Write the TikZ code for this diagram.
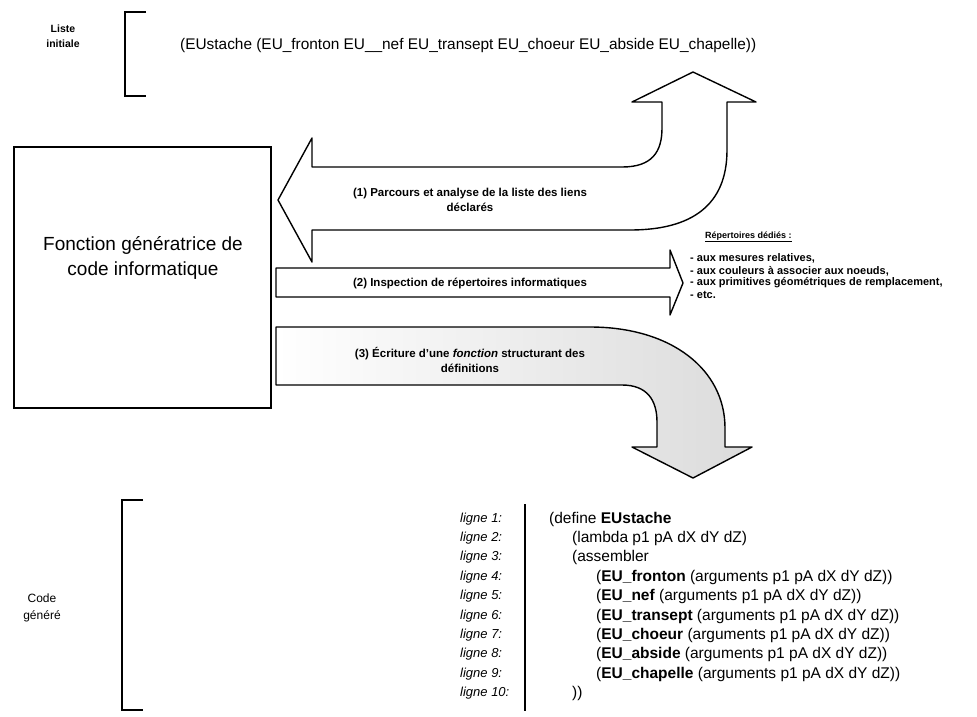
\documentclass[tikz,border=0pt]{standalone}
\usepackage{fontspec}
\setmainfont{Liberation Sans}
\begin{document}
\begin{tikzpicture}[x=1pt,y=-1pt,
  brk/.style={line width=2.4pt},
  blockarrow/.style={draw=black,line width=1.4pt,line join=round,fill=white},
  arrtxt/.style={font=\bfseries\fontsize{11.5}{14.5}\selectfont,align=center},
  codetxt/.style={anchor=west,font=\fontsize{15.5}{16}\selectfont,inner sep=0pt},
  lntxt/.style={anchor=west,font=\itshape\fontsize{13}{16}\selectfont,inner sep=0pt},
  reptxt/.style={anchor=west,font=\bfseries\fontsize{11}{12}\selectfont,inner sep=0pt},
  sidelbl/.style={align=center,inner sep=0pt}]
\useasboundingbox (0,0) rectangle (977,716);

% ---------- Liste initiale ----------
\coordinate (lb1) at (146,12);
\coordinate (lb2) at (125,12);
\coordinate (lb3) at (125,96);
\coordinate (lb4) at (146,96);
\draw[brk] (lb1) -- (lb2) -- (lb3) -- (lb4);
\node[sidelbl,font=\bfseries\fontsize{10.5}{15}\selectfont] (liste) at (63,36) {Liste\\initiale};
\node[anchor=west,inner sep=0pt,font=\fontsize{15.4}{16}\selectfont] (liste0) at (180,46)
  {(EUstache (EU\_fronton EU\_\_nef EU\_transept EU\_choeur EU\_abside EU\_chapelle))};

% ---------- main box ----------
\node[draw,line width=1.8pt,minimum width=257pt,minimum height=261pt,inner sep=0pt] (box) at (142.5,277.5) {};
\node[align=center,font=\fontsize{19}{25}\selectfont] (boxtxt) at (143,258) {Fonction génératrice de\\code informatique};

% ---------- arrow (1) ----------
\coordinate (a1tip) at (278,200);
\coordinate (a1up) at (693,72);
\draw[blockarrow] (a1tip) -- (312,138) -- (312,167) -- (622,167)
  .. controls (652,167) and (662,152) .. (662,128) -- (662,102) -- (632,102)
  -- (a1up) -- (756,102) -- (727,102) -- (727,150)
  .. controls (727,205) and (692,230) .. (630,230) -- (312,230) -- (312,262) -- cycle;
\node[arrtxt] (a1txt) at (470,200) {(1) Parcours et analyse de la liste des liens\\déclarés};

% ---------- arrow (2) ----------
\coordinate (a2tip) at (683,283);
\draw[blockarrow] (276,268) -- (670,268) -- (670,250) -- (a2tip) -- (670,315) -- (670,297) -- (276,297) -- cycle;
\node[arrtxt] (a2txt) at (470,283) {(2) Inspection de répertoires informatiques};

% ---------- répertoires ----------
\node[reptxt,font=\bfseries\fontsize{9}{10}\selectfont] (rep0) at (705,237) {\underline{Répertoires dédiés :}};
\node[reptxt] (rep1) at (690,258) {- aux mesures relatives,};
\node[reptxt] (rep2) at (690,271) {- aux couleurs à associer aux noeuds,};
\node[reptxt] (rep3) at (690,283) {- aux primitives géométriques de remplacement,};
\node[reptxt] (rep4) at (690,295) {- etc.};

% ---------- arrow (3) ----------
\coordinate (a3tip) at (693,478);
\path[draw=black,line width=1.4pt,line join=round,left color=white,right color=gray!28]
  (276,327) -- (590,327) .. controls (672,327) and (725,370) .. (725,428) -- (725,447) -- (752,447)
  -- (a3tip) -- (632,447) -- (657,447) -- (657,422)
  .. controls (657,400) and (647,385) .. (622,385) -- (276,385) -- cycle;
\node[arrtxt] (a3txt) at (470,360) {(3) Écriture d'une \textit{fonction} structurant des\\définitions};

% ---------- code généré ----------
\coordinate (cb1) at (143,500);
\coordinate (cb2) at (122,500);
\coordinate (cb3) at (122,710);
\coordinate (cb4) at (143,710);
\draw[brk] (cb1) -- (cb2) -- (cb3) -- (cb4);
\node[sidelbl,font=\fontsize{12}{17}\selectfont] (code) at (42,608) {Code\\généré};

\coordinate (sep1) at (525,504);
\coordinate (sep2) at (525,711);
\draw[line width=1.2pt] (sep1) -- (sep2);

\foreach \i/\y in {1/519,2/538,3/557,4/577,5/596,6/616,7/635,8/654,9/674,10/693}{
  \node[lntxt] (l\i) at (460,\y) {ligne \i:};
}
\node[codetxt] (c1) at (549,519) {(define \textbf{EUstache}};
\node[codetxt] (c2) at (572,538) {(lambda p1 pA dX dY dZ)};
\node[codetxt] (c3) at (572,557) {(assembler};
\node[codetxt] (c4) at (596,577) {(\textbf{EU\_fronton} (arguments p1 pA dX dY dZ))};
\node[codetxt] (c5) at (596,596) {(\textbf{EU\_nef} (arguments p1 pA dX dY dZ))};
\node[codetxt] (c6) at (596,616) {(\textbf{EU\_transept} (arguments p1 pA dX dY dZ))};
\node[codetxt] (c7) at (596,635) {(\textbf{EU\_choeur} (arguments p1 pA dX dY dZ))};
\node[codetxt] (c8) at (596,654) {(\textbf{EU\_abside} (arguments p1 pA dX dY dZ))};
\node[codetxt] (c9) at (596,674) {(\textbf{EU\_chapelle} (arguments p1 pA dX dY dZ))};
\node[codetxt] (c10) at (572,693) {))};
\end{tikzpicture}
\end{document}
